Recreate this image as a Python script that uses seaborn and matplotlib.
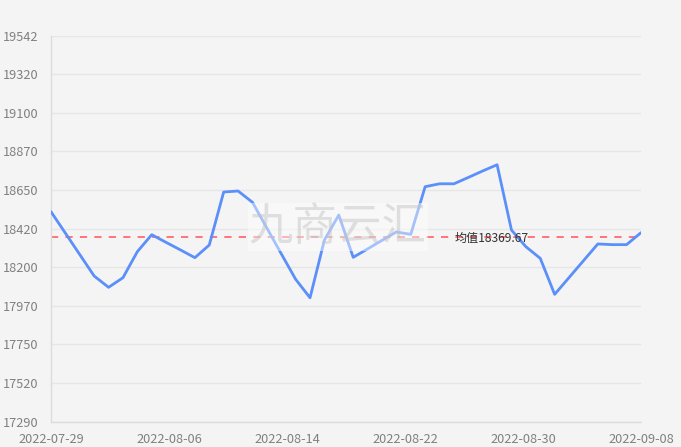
import numpy as np
import pandas as pd
import matplotlib
matplotlib.use("Agg")
import matplotlib.pyplot as plt
import seaborn as sns

# ---- data ----
dates = pd.date_range("2022-07-29", "2022-09-08", freq="D").strftime("%Y-%m-%d").tolist()
values = [18515, 18390, 18265, 18140, 18074, 18130, 18282, 18381, 18336, 18292,
          18247, 18321, 18630, 18636, 18570, 18420, 18270, 18121, 18013, 18350,
          18496, 18249, 18298, 18348, 18397, 18383, 18661, 18678, 18678, 18715,
          18753, 18789, 18408, 18311, 18243, 18033, 18131, 18229, 18327, 18323,
          18323, 18393]
mean_value = 18369.67
mean_label = "均值18369.67"
x_tick_labels = ["2022-07-29", "2022-08-06", "2022-08-14", "2022-08-22", "2022-08-30", "2022-09-08"]
y_tick_labels = ["17290", "17520", "17750", "17970", "18200", "18420", "18650", "18870", "19100", "19320", "19542"]
y_min, y_max = 17290, 19542
watermark = "九商云汇"

df = pd.DataFrame({"idx": np.arange(len(values)), "date": dates, "value": values})

sns.set_theme(style="white")
plt.rcParams["font.family"] = ["Noto Sans CJK SC", "DejaVu Sans"]

bg = "#f4f4f4"
fig = plt.figure(figsize=(6.81, 4.47), dpi=100, facecolor=bg)
ax = fig.add_axes([51/681, 1-421.7/447, (641-51)/681, (421.7-35.7)/447])
ax.set_facecolor(bg)

sns.lineplot(data=df, x="idx", y="value", ax=ax, color="#5b8ff9", linewidth=2.0, zorder=3)

# mean line
ax.axhline(mean_value, color="#ff6b6b", linestyle=(0, (4, 4)), linewidth=1.3, zorder=2)
n = len(values)
ax.text((n - 1) * 0.746, mean_value - 12, mean_label, ha="center", va="center", fontsize=8.7,
        color="#333333", zorder=5)

ax.set_xlim(0, n - 1)
ax.set_ylim(y_min, y_max)
ax.set_xticks(np.linspace(0, n - 1, len(x_tick_labels)))
ax.set_xticklabels(x_tick_labels)
ax.set_yticks(np.linspace(y_min, y_max, len(y_tick_labels)))
ax.set_yticklabels(y_tick_labels)
ax.set_xlabel("")
ax.set_ylabel("")

ax.grid(axis="y", color="#e6e6e6", linewidth=1.0, zorder=0)
ax.grid(axis="x", visible=False)
for s in ["top", "right"]:
    ax.spines[s].set_visible(False)
for s in ["left", "bottom"]:
    ax.spines[s].set_color("#dcdcdc")
    ax.spines[s].set_linewidth(1.0)

ax.tick_params(axis="both", colors="#dcdcdc", labelcolor="#808080", labelsize=9.2,
               length=5, width=1, pad=3)
ax.tick_params(axis="y", pad=4)

# watermark
ax.text(0.486, 0.505, watermark, transform=ax.transAxes, ha="center", va="center",
        fontsize=32, color=(0.75, 0.75, 0.75, 0.45), zorder=6,
        bbox=dict(boxstyle="square,pad=0.02", facecolor="#ffffff", edgecolor="none", alpha=0.45))

fig.savefig("out.png", dpi=100, facecolor=bg)
